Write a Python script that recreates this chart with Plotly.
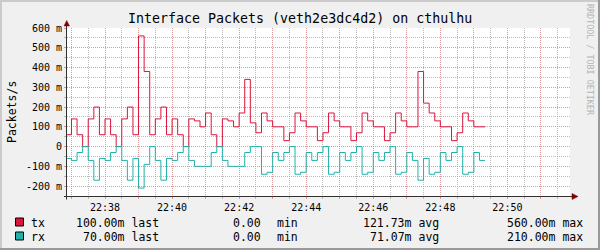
import plotly.graph_objects as go
import pandas as pd

# ---------------- data (milli packets/s, 10 s steps) ----------------
tx = [60, 140, 60, 0, 140, 200, 60, 140, 60, 0, 140, 200, 60, 560, 380,
      60, 140, 200, 60, 140, 60, 0, 140, 130, 100, 170, 60, 0, 140, 130,
      100, 170, 340, 120, 70, 170, 130, 100, 100, 30, 70, 170, 130, 100, 100,
      30, 70, 170, 130, 100, 100, 30, 70, 170, 130, 100, 100, 30, 70, 170,
      130, 100, 100, 380, 220, 170, 130, 100, 100, 30, 70, 170, 130, 100, 100]
rx = [60, 70, 30, 0, 70, 170, 60, 70, 30, 0, 70, 170, 60, 210, 90,
      0, 70, 170, 60, 70, 30, 0, 70, 100, 100, 100, 30, 0, 70, 100,
      100, 100, 30, 0, 0, 140, 130, 30, 70, 30, 0, 140, 130, 30, 70,
      30, 0, 140, 130, 30, 70, 30, 0, 140, 130, 30, 70, 30, 0, 140,
      130, 30, 70, 170, 60, 140, 130, 30, 70, 30, 0, 140, 130, 30, 70]
first_step = "2024-01-01 22:36:50"
x_start = "2024-01-01 22:36:52"
x_end = "2024-01-01 22:51:52"

y_ticks = [-200, -100, 0, 100, 200, 300, 400, 500, 600]
y_ticktext = ["-200 m", "-100 m", "0", "100 m", "200 m", "300 m", "400 m", "500 m", "600 m"]

title = "Interface Packets (veth2e3dc4d2) on cthulhu"
y_title = "Packets/s"
series_names = ["tx", "rx"]
legend_rows = {
    "tx": ["100.00m last", "0.00", "min", "121.73m avg", "560.00m max"],
    "rx": ["70.00m last", "0.00", "min", "71.07m avg", "210.00m max"],
}
watermark = "RRDTOOL / TOBI OETIKER"

# ---------------- style ----------------
TX_COLOR = "#DC143C"
RX_COLOR = "#20B2AA"
MONO = "DejaVu Sans Mono"
BG = "#F0F0F0"
MGRID = "rgba(240,130,130,0.6)"
GRID = "rgba(160,160,160,0.7)"

L, T, W, H = 67, 28, 503, 168
R = 600 - L - W
B = 250 - T - H


def PX(x):
    return (x - L) / W


def PY(y):
    return (T + H - y) / H


times = pd.date_range(first_step, periods=len(tx) + 1, freq="10s")

fig = go.Figure()
fig.add_trace(go.Scatter(x=times, y=tx + [tx[-1]], mode="lines",
                         line=dict(color=TX_COLOR, width=1, shape="hv"),
                         hoverinfo="skip", name="tx"))
fig.add_trace(go.Scatter(x=times, y=[-v for v in rx] + [-rx[-1]], mode="lines",
                         line=dict(color=RX_COLOR, width=1, shape="hv"),
                         hoverinfo="skip", name="rx"))

major_x = pd.date_range("2024-01-01 22:37", "2024-01-01 22:51", freq="1min")
major_text = [t.strftime("%H:%M") if t.minute % 2 == 0 else "" for t in major_x]

fig.update_layout(
    width=600, height=250,
    margin=dict(l=L, r=R, t=T, b=B, pad=0),
    paper_bgcolor=BG, plot_bgcolor="#FFFFFF",
    showlegend=False,
    font=dict(family=MONO, size=10, color="#000000"),
)
fig.update_xaxes(
    type="date", range=[x_start, x_end],
    tickmode="array", tickvals=list(major_x), ticktext=major_text,
    showgrid=True, gridcolor=MGRID, griddash="1px,1px", gridwidth=1,
    ticks="outside", ticklen=2, tickcolor=MGRID,
    minor=dict(dtick=30000, tick0="2024-01-01 22:37:00", showgrid=True,
               gridcolor=GRID, griddash="1px,1px", ticks="outside", ticklen=2,
               tickcolor=GRID),
    showline=False, zeroline=False,
    tickfont=dict(family=MONO, size=10, color="#000000"),
)
fig.update_yaxes(
    range=[-250, 600],
    tickmode="array", tickvals=y_ticks, ticktext=y_ticktext,
    showgrid=True, gridcolor=MGRID, griddash="1px,1px", gridwidth=1,
    ticks="outside", ticklen=2, tickcolor=MGRID,
    minor=dict(dtick=50, tick0=0, showgrid=True, gridcolor=GRID,
               griddash="1px,1px", ticks="outside", ticklen=2, tickcolor=GRID),
    showline=False, zeroline=False,
    tickfont=dict(family=MONO, size=10, color="#000000"),
)

shapes = []
# outer shading frame
shapes.append(dict(type="line", xref="paper", yref="paper", x0=PX(0), x1=PX(600), y0=PY(1), y1=PY(1),
                   line=dict(color="#CBCBCB", width=2)))
shapes.append(dict(type="line", xref="paper", yref="paper", x0=PX(1), x1=PX(1), y0=PY(0), y1=PY(250),
                   line=dict(color="#CBCBCB", width=2)))
shapes.append(dict(type="line", xref="paper", yref="paper", x0=PX(0), x1=PX(600), y0=PY(249), y1=PY(249),
                   line=dict(color="#999999", width=2)))
shapes.append(dict(type="line", xref="paper", yref="paper", x0=PX(599), x1=PX(599), y0=PY(0), y1=PY(250),
                   line=dict(color="#999999", width=2)))
# axes
shapes.append(dict(type="line", xref="paper", yref="paper", x0=PX(64), x1=PX(573), y0=PY(196.5), y1=PY(196.5),
                   line=dict(color="#303030", width=1)))
shapes.append(dict(type="line", xref="paper", yref="paper", x0=PX(66.5), x1=PX(66.5), y0=PY(199.5), y1=PY(25),
                   line=dict(color="#303030", width=1)))
# arrows
shapes.append(dict(type="path", xref="paper", yref="paper",
                   path=f"M {PX(64)} {PY(26)} L {PX(69.5)} {PY(26)} L {PX(66.7)} {PY(20.5)} Z",
                   fillcolor="#800000", line=dict(color="#800000", width=0.5)))
shapes.append(dict(type="path", xref="paper", yref="paper",
                   path=f"M {PX(572)} {PY(193.5)} L {PX(572)} {PY(199.5)} L {PX(578)} {PY(196.5)} Z",
                   fillcolor="#800000", line=dict(color="#800000", width=0.5)))
# legend swatches
for name, color, ytop in [("tx", TX_COLOR, 218), ("rx", RX_COLOR, 232)]:
    shapes.append(dict(type="rect", xref="paper", yref="paper", x0=PX(15.5), x1=PX(23.5),
                       y0=PY(ytop), y1=PY(ytop + 8), fillcolor=color,
                       line=dict(color="#000000", width=1)))
fig.update_layout(shapes=shapes)

ann = []


def add_text(text, x, y, anchor="left", size=11.5, color="#000000", angle=0):
    ann.append(dict(text=text, xref="paper", yref="paper", x=PX(x), y=PY(y),
                    xanchor=anchor, yanchor="middle", showarrow=False,
                    font=dict(family=MONO, size=size, color=color),
                    textangle=angle, borderpad=0))


add_text(title, 300, 19, anchor="center", size=13.3)
add_text(y_title, 12, 112, anchor="center", angle=-90)
add_text(watermark, 590, 60, anchor="center", size=8.4, color="#B4B4B4", angle=90)

for name, yc in [("tx", 222.5), ("rx", 236.5)]:
    vals = legend_rows[name]
    add_text(name, 30, yc, anchor="left")
    add_text(vals[0], 159.5, yc, anchor="right")
    add_text(vals[1], 261.5, yc, anchor="right")
    add_text(vals[2], 275.5, yc, anchor="left")
    add_text(vals[3], 440, yc, anchor="right")
    add_text(vals[4], 584, yc, anchor="right")

fig.update_layout(annotations=ann)
fig.write_html("out.html")
